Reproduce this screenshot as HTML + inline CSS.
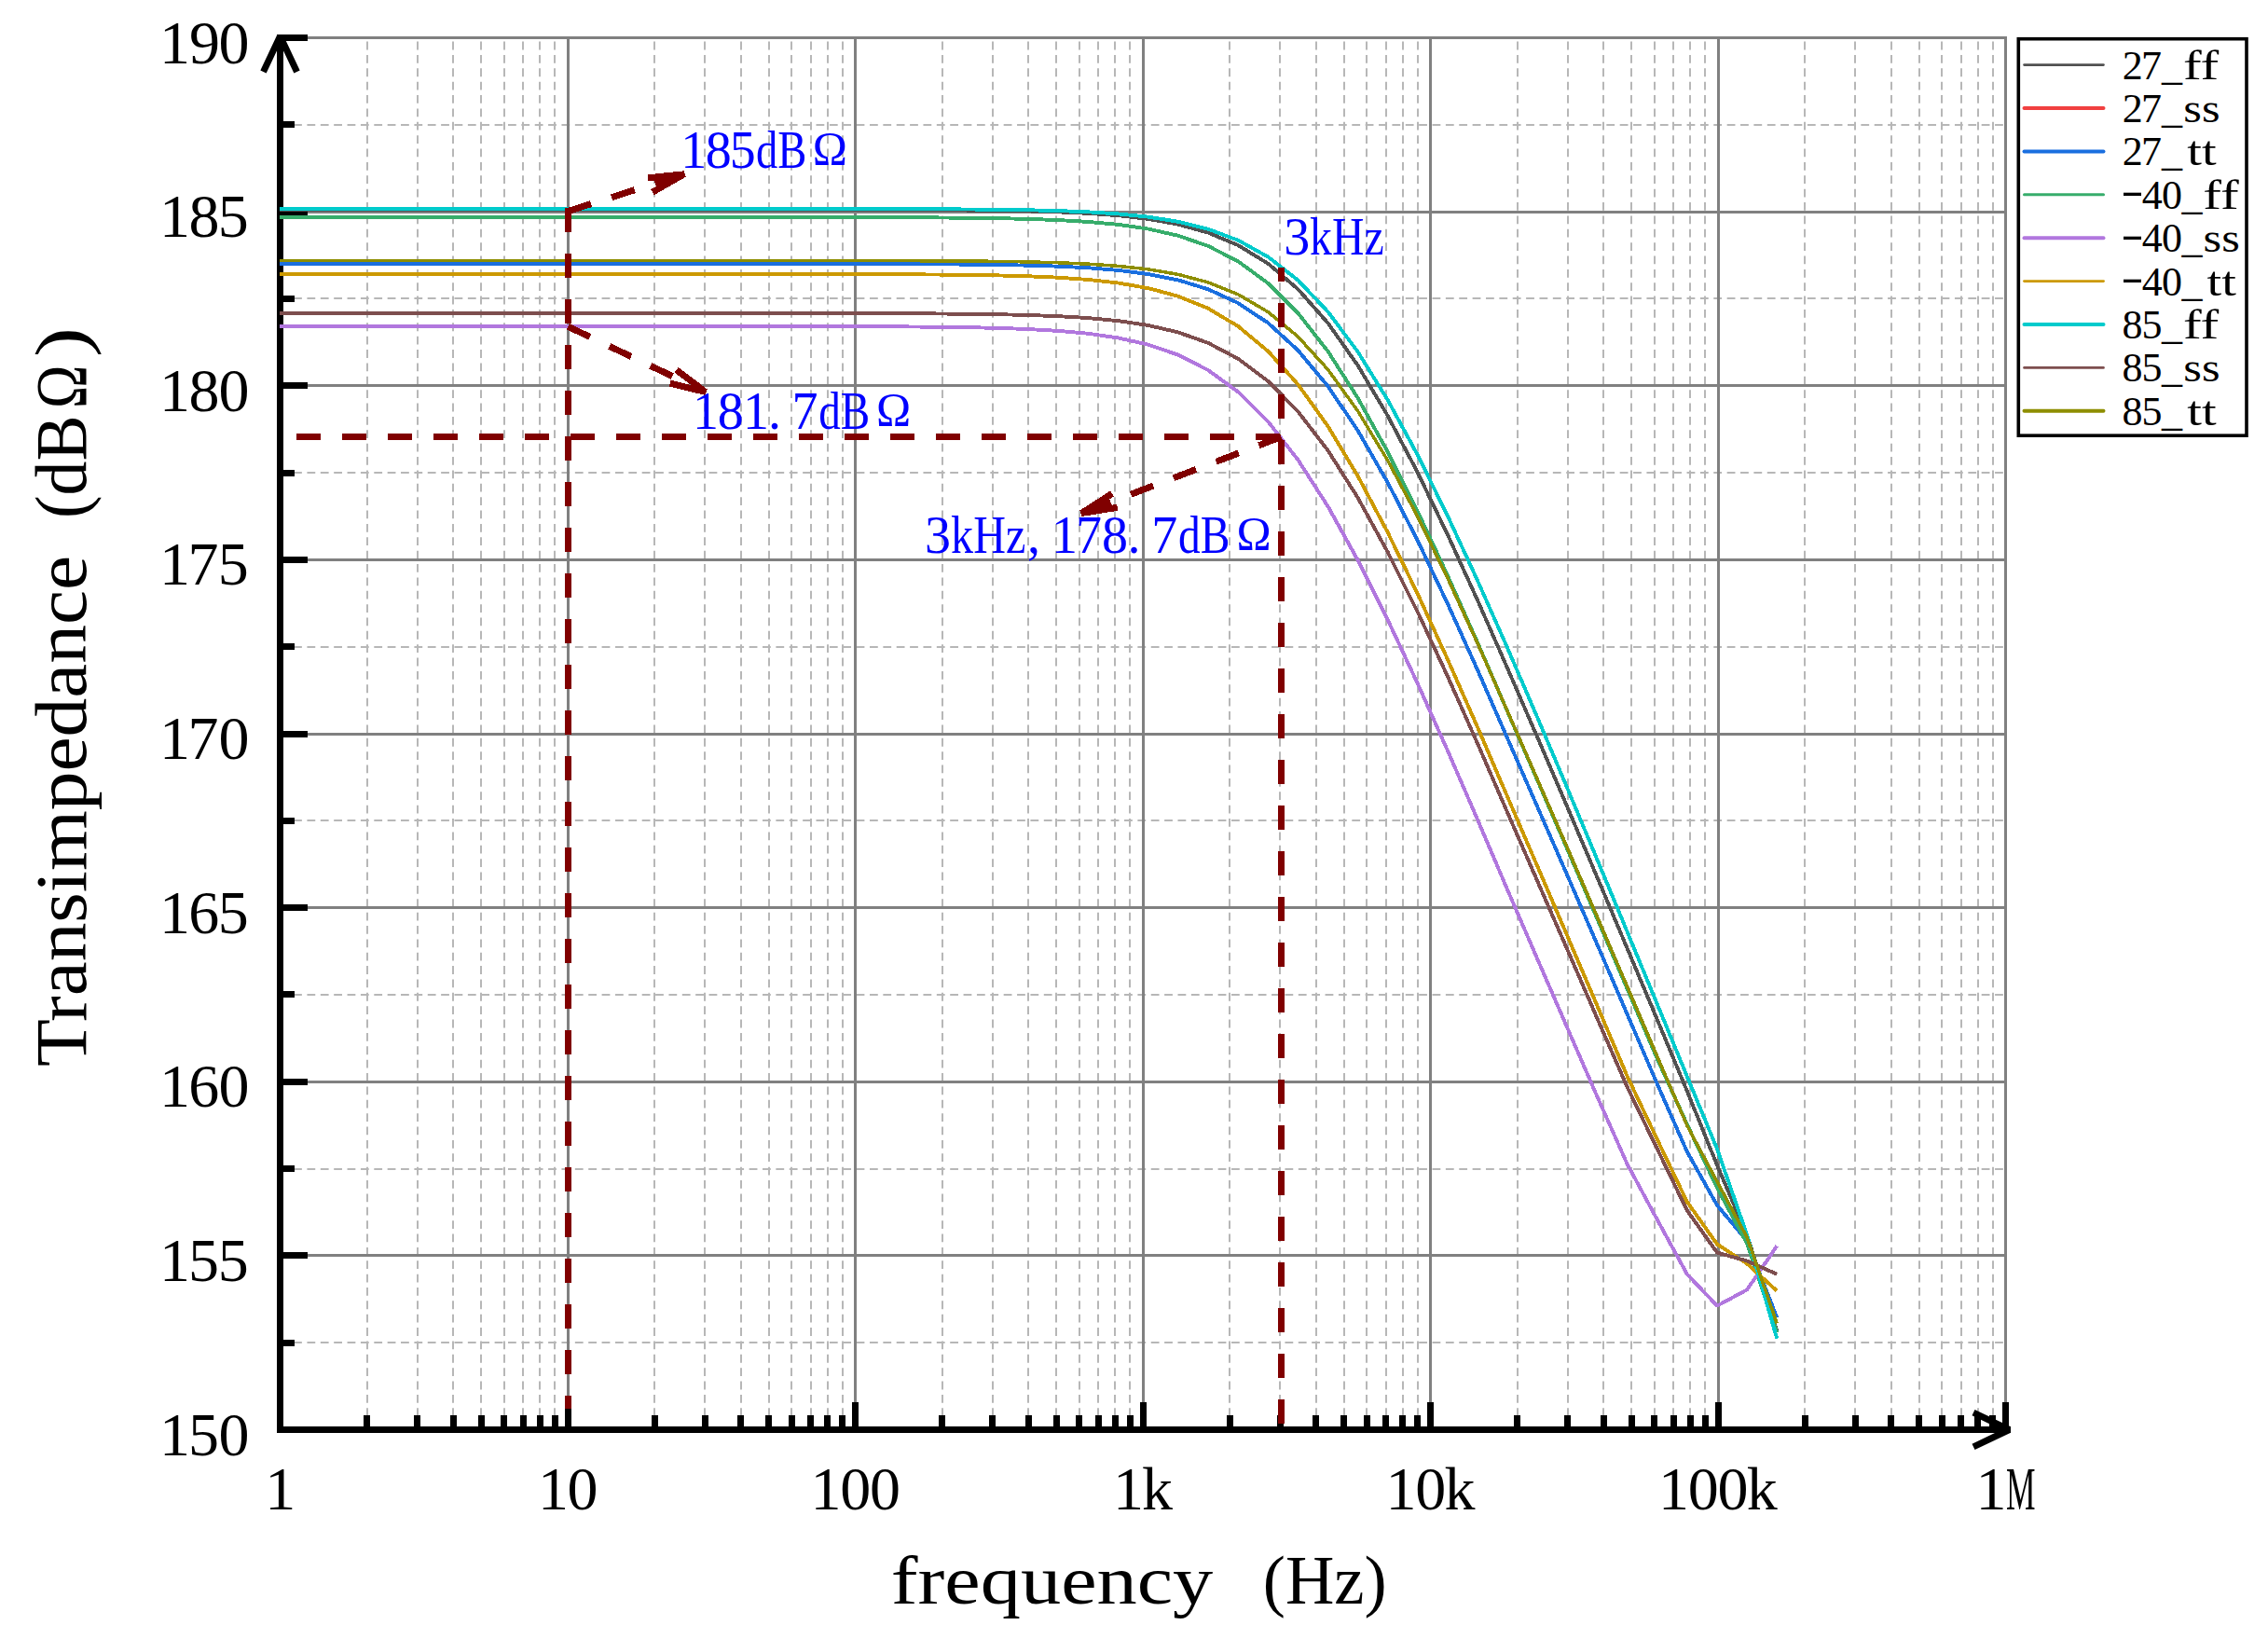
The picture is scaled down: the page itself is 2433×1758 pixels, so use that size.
<!DOCTYPE html>
<html lang="en"><head><meta charset="utf-8"><title>Transimpedance vs frequency</title>
<style>html,body{margin:0;padding:0;background:#fff}svg{display:block}</style></head>
<body>
<svg width="2433" height="1758" viewBox="0 0 2433 1758">
<title>Transimpedance (dBΩ) versus frequency (Hz)</title>
<desc>Line chart of Transimpedance (dBΩ) against frequency (Hz) from 1 to 1M on a log axis for the corners 27_ff, 27_ss, 27_tt, -40_ff, -40_ss, -40_tt, 85_ff, 85_ss and 85_tt. Annotations: 185dBΩ, 181.7dBΩ, 3kHz and 3kHz,178.7dBΩ.</desc>
<rect width="2433" height="1758" fill="#fff"/>
<path d="M394.0 1533.5V40.5M448.0 1533.5V40.5M486.0 1533.5V40.5M516.0 1533.5V40.5M541.0 1533.5V40.5M561.0 1533.5V40.5M579.0 1533.5V40.5M595.0 1533.5V40.5M702.0 1533.5V40.5M756.0 1533.5V40.5M795.0 1533.5V40.5M825.0 1533.5V40.5M849.0 1533.5V40.5M870.0 1533.5V40.5M888.0 1533.5V40.5M904.0 1533.5V40.5M1011.0 1533.5V40.5M1065.0 1533.5V40.5M1103.0 1533.5V40.5M1133.0 1533.5V40.5M1158.0 1533.5V40.5M1178.0 1533.5V40.5M1196.0 1533.5V40.5M1212.0 1533.5V40.5M1319.0 1533.5V40.5M1373.0 1533.5V40.5M1412.0 1533.5V40.5M1442.0 1533.5V40.5M1466.0 1533.5V40.5M1487.0 1533.5V40.5M1505.0 1533.5V40.5M1521.0 1533.5V40.5M1628.0 1533.5V40.5M1682.0 1533.5V40.5M1720.0 1533.5V40.5M1750.0 1533.5V40.5M1775.0 1533.5V40.5M1795.0 1533.5V40.5M1813.0 1533.5V40.5M1829.0 1533.5V40.5M1936.0 1533.5V40.5M1990.0 1533.5V40.5M2029.0 1533.5V40.5M2059.0 1533.5V40.5M2083.0 1533.5V40.5M2104.0 1533.5V40.5M2122.0 1533.5V40.5M2138.0 1533.5V40.5M300.7 1440.0H2151.7M300.7 1254.0H2151.7M300.7 1067.0H2151.7M300.7 880.0H2151.7M300.7 694.0H2151.7M300.7 507.0H2151.7M300.7 320.0H2151.7M300.7 134.0H2151.7" fill="none" stroke="#b7b7b7" stroke-width="2" stroke-dasharray="8.8 5.57"/>
<path d="M609.5 1533.5V39.0M917.5 1533.5V39.0M1226.5 1533.5V39.0M1534.5 1533.5V39.0M1843.5 1533.5V39.0M2151.5 1533.5V39.0M300.7 1346.5H2153.0M300.7 1160.5H2153.0M300.7 973.5H2153.0M300.7 787.5H2153.0M300.7 600.5H2153.0M300.7 413.5H2153.0M300.7 227.5H2153.0M300.7 40.5H2153.0" fill="none" stroke="#808080" stroke-width="3"/>
<path d="M393.5 1533.5v-15.5M447.5 1533.5v-15.5M486.5 1533.5v-15.5M516.5 1533.5v-15.5M540.5 1533.5v-15.5M561.5 1533.5v-15.5M579.5 1533.5v-15.5M595.5 1533.5v-15.5M609.5 1533.5v-29.5M702.5 1533.5v-15.5M756.5 1533.5v-15.5M794.5 1533.5v-15.5M824.5 1533.5v-15.5M849.5 1533.5v-15.5M869.5 1533.5v-15.5M887.5 1533.5v-15.5M903.5 1533.5v-15.5M917.5 1533.5v-29.5M1010.5 1533.5v-15.5M1064.5 1533.5v-15.5M1103.5 1533.5v-15.5M1133.5 1533.5v-15.5M1157.5 1533.5v-15.5M1178.5 1533.5v-15.5M1196.5 1533.5v-15.5M1212.5 1533.5v-15.5M1226.5 1533.5v-29.5M1319.5 1533.5v-15.5M1373.5 1533.5v-15.5M1411.5 1533.5v-15.5M1441.5 1533.5v-15.5M1466.5 1533.5v-15.5M1486.5 1533.5v-15.5M1504.5 1533.5v-15.5M1520.5 1533.5v-15.5M1534.5 1533.5v-29.5M1627.5 1533.5v-15.5M1681.5 1533.5v-15.5M1720.5 1533.5v-15.5M1750.5 1533.5v-15.5M1774.5 1533.5v-15.5M1795.5 1533.5v-15.5M1813.5 1533.5v-15.5M1829.5 1533.5v-15.5M1843.5 1533.5v-29.5M1936.5 1533.5v-15.5M1990.5 1533.5v-15.5M2028.5 1533.5v-15.5M2058.5 1533.5v-15.5M2083.5 1533.5v-15.5M2103.5 1533.5v-15.5M2121.5 1533.5v-15.5M2137.5 1533.5v-15.5M2151.5 1533.5v-29.5M300.5 1440.5h15.5M300.5 1346.5h29.5M300.5 1253.5h15.5M300.5 1160.5h29.5M300.5 1066.5h15.5M300.5 973.5h29.5M300.5 880.5h15.5M300.5 787.5h29.5M300.5 693.5h15.5M300.5 600.5h29.5M300.5 507.5h15.5M300.5 413.5h29.5M300.5 320.5h15.5M300.5 227.5h29.5M300.5 133.5h15.5M300.5 40.5h29.5" fill="none" stroke="#000" stroke-width="7"/>
<path d="M300.5 40.5V1533.5H2153.5" fill="none" stroke="#000" stroke-width="7" stroke-linecap="square" stroke-linejoin="miter"/>
<path d="M282.5 77L300.5 38.7L318.5 77" fill="none" stroke="#000" stroke-width="7" stroke-linejoin="bevel"/>
<path d="M2117 1515.2L2155.5 1533.5L2117 1551.8" fill="none" stroke="#000" stroke-width="7" stroke-linejoin="bevel"/>
<polyline points="300.0,225.00 332.8,225.00 364.9,225.00 397.0,225.00 429.1,225.00 461.2,225.00 493.4,225.00 525.5,225.00 557.6,225.00 589.7,225.00 621.8,225.00 653.9,225.00 686.0,225.00 718.1,225.00 750.2,225.01 782.3,225.01 814.5,225.02 846.6,225.03 878.7,225.05 910.8,225.08 942.9,225.14 975.0,225.22 1007.1,225.36 1039.2,225.57 1071.3,225.93 1103.4,226.49 1135.5,227.40 1167.7,228.86 1199.8,231.19 1231.9,234.89 1264.0,240.68 1296.1,249.62 1328.2,263.09 1360.3,282.73 1392.4,310.15 1424.5,346.48 1456.6,392.02 1488.7,446.03 1520.9,507.12 1553.0,573.61 1585.1,643.96 1617.2,716.93 1649.3,790.94 1681.4,865.75 1713.5,941.26 1745.6,1017.21 1777.7,1093.45 1809.8,1170.24 1842.0,1249.80 1874.1,1324.52 1906.2,1427.14" fill="none" stroke="#515151" stroke-width="3.9" stroke-linejoin="round" shape-rendering="crispEdges"/>
<polyline points="300.0,336.00 332.8,336.00 364.9,336.00 397.0,336.00 429.1,336.00 461.2,336.00 493.4,336.00 525.5,336.00 557.6,336.00 589.7,336.00 621.8,336.00 653.9,336.00 686.0,336.00 718.1,336.01 750.2,336.01 782.3,336.02 814.5,336.03 846.6,336.04 878.7,336.07 910.8,336.11 942.9,336.18 975.0,336.29 1007.1,336.47 1039.2,336.76 1071.3,337.23 1103.4,337.97 1135.5,339.18 1167.7,341.10 1199.8,344.16 1231.9,348.98 1264.0,356.48 1296.1,367.90 1328.2,384.79 1360.3,408.83 1392.4,441.40 1424.5,483.18 1456.6,533.84 1488.7,592.22 1520.9,656.69 1553.0,725.61 1585.1,797.63 1617.2,871.71 1649.3,945.16 1681.4,1018.55 1713.5,1092.49 1745.6,1166.03 1777.7,1232.15 1809.8,1298.38 1842.0,1343.50 1874.1,1352.48 1906.2,1366.67" fill="none" stroke="#F14040" stroke-width="3.9" stroke-linejoin="round" shape-rendering="crispEdges"/>
<polyline points="300.0,283.00 332.8,283.00 364.9,283.00 397.0,283.00 429.1,283.00 461.2,283.00 493.4,283.00 525.5,283.00 557.6,283.00 589.7,283.00 621.8,283.00 653.9,283.00 686.0,283.00 718.1,283.01 750.2,283.01 782.3,283.01 814.5,283.02 846.6,283.04 878.7,283.06 910.8,283.09 942.9,283.15 975.0,283.25 1007.1,283.40 1039.2,283.64 1071.3,284.03 1103.4,284.67 1135.5,285.68 1167.7,287.31 1199.8,289.91 1231.9,294.01 1264.0,300.43 1296.1,310.29 1328.2,325.04 1360.3,346.35 1392.4,375.75 1424.5,414.24 1456.6,461.84 1488.7,517.64 1520.9,580.13 1553.0,647.64 1585.1,718.69 1617.2,792.14 1649.3,865.46 1681.4,939.01 1713.5,1013.20 1745.6,1087.78 1777.7,1162.55 1809.8,1235.31 1842.0,1292.73 1874.1,1330.86 1906.2,1413.33" fill="none" stroke="#1A6FDF" stroke-width="3.9" stroke-linejoin="round" shape-rendering="crispEdges"/>
<polyline points="300.0,233.00 332.8,233.00 364.9,233.00 397.0,233.00 429.1,233.00 461.2,233.00 493.4,233.00 525.5,233.00 557.6,233.00 589.7,233.00 621.8,233.00 653.9,233.00 686.0,233.00 718.1,233.01 750.2,233.01 782.3,233.02 814.5,233.03 846.6,233.04 878.7,233.07 910.8,233.11 942.9,233.17 975.0,233.28 1007.1,233.46 1039.2,233.73 1071.3,234.18 1103.4,234.91 1135.5,236.07 1167.7,237.93 1199.8,240.89 1231.9,245.56 1264.0,252.82 1296.1,263.91 1328.2,280.35 1360.3,303.82 1392.4,335.74 1424.5,376.86 1456.6,426.91 1488.7,484.79 1520.9,548.87 1553.0,617.52 1585.1,689.36 1617.2,763.32 1649.3,837.11 1681.4,911.07 1713.5,985.59 1745.6,1060.45 1777.7,1135.54 1809.8,1205.94 1842.0,1274.06 1874.1,1333.85 1906.2,1429.00" fill="none" stroke="#37AD6B" stroke-width="3.9" stroke-linejoin="round" shape-rendering="crispEdges"/>
<polyline points="300.0,350.00 332.8,350.00 364.9,350.00 397.0,350.00 429.1,350.00 461.2,350.00 493.4,350.00 525.5,350.00 557.6,350.00 589.7,350.00 621.8,350.00 653.9,350.00 686.0,350.01 718.1,350.01 750.2,350.02 782.3,350.03 814.5,350.04 846.6,350.07 878.7,350.11 910.8,350.17 942.9,350.28 975.0,350.45 1007.1,350.73 1039.2,351.18 1071.3,351.89 1103.4,353.05 1135.5,354.90 1167.7,357.83 1199.8,362.47 1231.9,369.69 1264.0,380.71 1296.1,397.06 1328.2,420.41 1360.3,452.20 1392.4,493.18 1424.5,543.11 1456.6,600.87 1488.7,664.87 1520.9,733.47 1553.0,805.27 1585.1,879.20 1617.2,954.52 1649.3,1028.76 1681.4,1102.66 1713.5,1176.40 1745.6,1248.59 1777.7,1308.07 1809.8,1366.68 1842.0,1400.61 1874.1,1383.44 1906.2,1336.44" fill="none" stroke="#B177DE" stroke-width="3.9" stroke-linejoin="round" shape-rendering="crispEdges"/>
<polyline points="300.0,294.00 332.8,294.00 364.9,294.00 397.0,294.00 429.1,294.00 461.2,294.00 493.4,294.00 525.5,294.00 557.6,294.00 589.7,294.00 621.8,294.00 653.9,294.00 686.0,294.00 718.1,294.01 750.2,294.01 782.3,294.02 814.5,294.03 846.6,294.05 878.7,294.08 910.8,294.13 942.9,294.21 975.0,294.34 1007.1,294.55 1039.2,294.89 1071.3,295.44 1103.4,296.32 1135.5,297.72 1167.7,299.97 1199.8,303.54 1231.9,309.13 1264.0,317.78 1296.1,330.85 1328.2,349.95 1360.3,376.71 1392.4,412.33 1424.5,457.16 1456.6,510.56 1488.7,571.16 1520.9,637.29 1553.0,707.39 1585.1,780.19 1617.2,854.79 1649.3,929.27 1681.4,1003.90 1713.5,1079.00 1745.6,1154.38 1777.7,1222.00 1809.8,1289.05 1842.0,1334.54 1874.1,1355.47 1906.2,1384.59" fill="none" stroke="#CC9900" stroke-width="3.9" stroke-linejoin="round" shape-rendering="crispEdges"/>
<polyline points="300.0,224.00 332.8,224.00 364.9,224.00 397.0,224.00 429.1,224.00 461.2,224.00 493.4,224.00 525.5,224.00 557.6,224.00 589.7,224.00 621.8,224.00 653.9,224.00 686.0,224.00 718.1,224.00 750.2,224.01 782.3,224.01 814.5,224.02 846.6,224.03 878.7,224.05 910.8,224.07 942.9,224.12 975.0,224.19 1007.1,224.31 1039.2,224.50 1071.3,224.81 1103.4,225.30 1135.5,226.10 1167.7,227.38 1199.8,229.42 1231.9,232.67 1264.0,237.79 1296.1,245.71 1328.2,257.75 1360.3,275.49 1392.4,300.57 1424.5,334.33 1456.6,377.31 1488.7,429.06 1520.9,488.33 1553.0,553.47 1585.1,622.87 1617.2,695.21 1649.3,769.71 1681.4,845.56 1713.5,922.22 1745.6,999.39 1777.7,1076.87 1809.8,1154.55 1842.0,1232.25 1874.1,1324.52 1906.2,1435.72" fill="none" stroke="#00CBCC" stroke-width="3.9" stroke-linejoin="round" shape-rendering="crispEdges"/>
<polyline points="300.0,336.00 332.8,336.00 364.9,336.00 397.0,336.00 429.1,336.00 461.2,336.00 493.4,336.00 525.5,336.00 557.6,336.00 589.7,336.00 621.8,336.00 653.9,336.00 686.0,336.00 718.1,336.01 750.2,336.01 782.3,336.02 814.5,336.03 846.6,336.04 878.7,336.07 910.8,336.11 942.9,336.18 975.0,336.29 1007.1,336.47 1039.2,336.76 1071.3,337.23 1103.4,337.97 1135.5,339.18 1167.7,341.10 1199.8,344.16 1231.9,348.98 1264.0,356.48 1296.1,367.90 1328.2,384.79 1360.3,408.83 1392.4,441.40 1424.5,483.18 1456.6,533.84 1488.7,592.22 1520.9,656.69 1553.0,725.61 1585.1,797.63 1617.2,871.71 1649.3,945.16 1681.4,1018.55 1713.5,1092.49 1745.6,1166.03 1777.7,1232.15 1809.8,1298.38 1842.0,1343.50 1874.1,1352.48 1906.2,1366.67" fill="none" stroke="#7D4E4E" stroke-width="3.9" stroke-linejoin="round" shape-rendering="crispEdges"/>
<polyline points="300.0,279.50 332.8,279.50 364.9,279.50 397.0,279.50 429.1,279.50 461.2,279.50 493.4,279.50 525.5,279.50 557.6,279.50 589.7,279.50 621.8,279.50 653.9,279.50 686.0,279.50 718.1,279.50 750.2,279.51 782.3,279.51 814.5,279.52 846.6,279.53 878.7,279.55 910.8,279.58 942.9,279.63 975.0,279.71 1007.1,279.84 1039.2,280.04 1071.3,280.38 1103.4,280.91 1135.5,281.78 1167.7,283.16 1199.8,285.37 1231.9,288.88 1264.0,294.39 1296.1,302.90 1328.2,315.78 1360.3,334.63 1392.4,361.09 1424.5,396.38 1456.6,440.89 1488.7,494.00 1520.9,554.37 1553.0,620.33 1585.1,690.30 1617.2,763.03 1649.3,835.98 1681.4,909.36 1713.5,983.50 1745.6,1058.10 1777.7,1132.99 1809.8,1207.32 1842.0,1267.35 1874.1,1327.13 1906.2,1419.30" fill="none" stroke="#8E8E00" stroke-width="3.5" stroke-linejoin="round" shape-rendering="crispEdges"/>
<g fill="none" stroke="#800000" stroke-width="7" stroke-dasharray="25.8 23.2" shape-rendering="crispEdges">
<path d="M609.5 223.2V1510.9"/>
<path d="M1374.5 1526.8V287.3"/>
<path d="M318 468.5H1377.9"/>
<path d="M609.5 226.5L733.4 187.0"/>
<path d="M609.5 350.3L756.3 420.2"/>
<path d="M1374.5 468.5L1160.6 550.3"/>
</g>
<path d="M695.1 190.8L733.9 186.8L699.9 206.1" fill="none" stroke="#800000" stroke-width="7" stroke-linejoin="bevel" shape-rendering="crispEdges"/>
<path d="M725.7 396.8L756.8 420.4L718.8 411.2" fill="none" stroke="#800000" stroke-width="7" stroke-linejoin="bevel" shape-rendering="crispEdges"/>
<path d="M1198.7 544.3L1160.1 550.5L1193.0 529.4" fill="none" stroke="#800000" stroke-width="7" stroke-linejoin="bevel" shape-rendering="crispEdges"/>
<g font-family="'Liberation Serif', 'Noto Serif CJK SC', serif">
<text y="1618.9" font-size="66" fill="#000"><tspan x="284.3">1</tspan></text>
<text y="1618.9" font-size="66" fill="#000"><tspan x="576.9 608.6">10</tspan></text>
<text y="1618.9" font-size="66" fill="#000"><tspan x="869.5 901.2 933.0">100</tspan></text>
<text y="1618.9" font-size="66" fill="#000"><tspan x="1193.9 1225.0">1k</tspan></text>
<text y="1618.9" font-size="66" fill="#000"><tspan x="1486.5 1518.2 1549.4">10k</tspan></text>
<text y="1618.9" font-size="66" fill="#000"><tspan x="1779.1 1810.8 1842.6 1873.8">100k</tspan></text>
<text y="1618.9" font-size="66" fill="#000"><tspan x="2119.4">1</tspan><tspan x="2151.9" textLength="31.5" lengthAdjust="spacingAndGlyphs">M</tspan></text>
<text y="1560.5" font-size="66" fill="#000"><tspan x="170.9 202.0 234.4">150</tspan></text>
<text y="1373.9" font-size="66" fill="#000"><tspan x="170.9 202.0 233.8">155</tspan></text>
<text y="1187.2" font-size="66" fill="#000"><tspan x="170.9 202.2 234.4">160</tspan></text>
<text y="1000.6" font-size="66" fill="#000"><tspan x="170.9 202.2 233.8">165</tspan></text>
<text y="814.0" font-size="66" fill="#000"><tspan x="170.9 201.4 234.4">170</tspan></text>
<text y="627.4" font-size="66" fill="#000"><tspan x="170.9 201.4 233.8">175</tspan></text>
<text y="440.8" font-size="66" fill="#000"><tspan x="170.9 202.6 234.4">180</tspan></text>
<text y="254.1" font-size="66" fill="#000"><tspan x="170.9 202.6 233.8">185</tspan></text>
<text y="67.5" font-size="66" fill="#000"><tspan x="170.9 202.9 234.4">190</tspan></text>
<text y="1719.9" font-size="75" fill="#000"><tspan x="955.8" textLength="345.5" lengthAdjust="spacingAndGlyphs">frequency</tspan> <tspan x="1354.8" textLength="132.8" lengthAdjust="spacingAndGlyphs">(Hz)</tspan></text>
<g transform="translate(92.4 1142.6) rotate(-90)"><text y="0.0" font-size="78" fill="#000"><tspan x="-1.5" textLength="548.0" lengthAdjust="spacingAndGlyphs">Transimpedance</tspan> <tspan x="586.6" textLength="110.6" lengthAdjust="spacingAndGlyphs">(dB</tspan><tspan x="704.5" textLength="46.4" lengthAdjust="spacingAndGlyphs">Ω</tspan><tspan x="759.5" textLength="31.9" lengthAdjust="spacingAndGlyphs">)</tspan></text></g>
<text y="179.9" font-size="56" fill="#0000FF"><tspan x="730.3 756.7 782.8">185</tspan><tspan x="810.9" textLength="54.4" lengthAdjust="spacingAndGlyphs">dB</tspan><tspan x="871.8" dy="-3.5" font-size="50">Ω</tspan></text>
<text y="459.9" font-size="56" fill="#0000FF"><tspan x="743.1 769.8 796.9 824.1 849.5">181.7</tspan><tspan x="878.2" textLength="55.0" lengthAdjust="spacingAndGlyphs">dB</tspan><tspan x="940.1" dy="-3.5" font-size="50">Ω</tspan></text>
<text y="272.9" font-size="56" fill="#0000FF"><tspan x="1377.2">3</tspan><tspan x="1405.1" textLength="79.5" lengthAdjust="spacingAndGlyphs">kHz</tspan></text>
<text y="592.8" font-size="56" fill="#0000FF"><tspan x="992.1">3</tspan><tspan x="1020.1" textLength="80.2" lengthAdjust="spacingAndGlyphs">kHz</tspan><tspan x="1101.9 1128.0 1153.9 1182.0 1209.6 1235.2">,178.7</tspan><tspan x="1264.0" textLength="55.4" lengthAdjust="spacingAndGlyphs">dB</tspan><tspan x="1326.5" dy="-3.5" font-size="50">Ω</tspan></text>
</g>
<rect x="2165.3" y="41.7" width="244.7" height="425.5" fill="#fff" stroke="#000" stroke-width="3.6"/>
<g font-family="'Liberation Serif', 'Noto Serif CJK SC', serif">
<path d="M2171.5 69.6H2256.5" stroke="#515151" stroke-width="2.6" stroke-linecap="round"/>
<text y="84.6" font-size="44" fill="#000"><tspan x="2276.7 2297.0 2319.1">27_</tspan><tspan x="2342.0" textLength="38.3" lengthAdjust="spacingAndGlyphs">ff</tspan></text>
<path d="M2171.5 116.0H2256.5" stroke="#F14040" stroke-width="4" stroke-linecap="round"/>
<text y="131.0" font-size="44" fill="#000"><tspan x="2276.7 2297.0 2319.1">27_</tspan><tspan x="2342.3" textLength="39.2" lengthAdjust="spacingAndGlyphs">ss</tspan></text>
<path d="M2171.5 162.4H2256.5" stroke="#1A6FDF" stroke-width="4" stroke-linecap="round"/>
<text y="177.4" font-size="44" fill="#000"><tspan x="2276.7 2297.0 2319.1">27_</tspan><tspan x="2346.2" textLength="31.4" lengthAdjust="spacingAndGlyphs">tt</tspan></text>
<path d="M2171.5 208.8H2256.5" stroke="#37AD6B" stroke-width="3" stroke-linecap="round"/>
<text y="223.8" font-size="44" fill="#000"><tspan x="2275.3" textLength="24.4" lengthAdjust="spacingAndGlyphs" dy="-4.7">-</tspan><tspan x="2297.7 2319.1 2340.4" dy="4.7">40_</tspan><tspan x="2363.3" textLength="38.3" lengthAdjust="spacingAndGlyphs">ff</tspan></text>
<path d="M2171.5 255.2H2256.5" stroke="#B177DE" stroke-width="4" stroke-linecap="round"/>
<text y="270.2" font-size="44" fill="#000"><tspan x="2275.3" textLength="24.4" lengthAdjust="spacingAndGlyphs" dy="-4.7">-</tspan><tspan x="2297.7 2319.1 2340.4" dy="4.7">40_</tspan><tspan x="2363.6" textLength="39.2" lengthAdjust="spacingAndGlyphs">ss</tspan></text>
<path d="M2171.5 301.6H2256.5" stroke="#CC9900" stroke-width="2.8" stroke-linecap="round"/>
<text y="316.6" font-size="44" fill="#000"><tspan x="2275.3" textLength="24.4" lengthAdjust="spacingAndGlyphs" dy="-4.7">-</tspan><tspan x="2297.7 2319.1 2340.4" dy="4.7">40_</tspan><tspan x="2367.5" textLength="31.4" lengthAdjust="spacingAndGlyphs">tt</tspan></text>
<path d="M2171.5 348.0H2256.5" stroke="#00CBCC" stroke-width="4" stroke-linecap="round"/>
<text y="363.0" font-size="44" fill="#000"><tspan x="2276.5 2297.4 2319.1">85_</tspan><tspan x="2342.0" textLength="38.3" lengthAdjust="spacingAndGlyphs">ff</tspan></text>
<path d="M2171.5 394.4H2256.5" stroke="#7D4E4E" stroke-width="2.6" stroke-linecap="round"/>
<text y="409.4" font-size="44" fill="#000"><tspan x="2276.5 2297.4 2319.1">85_</tspan><tspan x="2342.3" textLength="39.2" lengthAdjust="spacingAndGlyphs">ss</tspan></text>
<path d="M2171.5 440.8H2256.5" stroke="#8E8E00" stroke-width="4" stroke-linecap="round"/>
<text y="455.8" font-size="44" fill="#000"><tspan x="2276.5 2297.4 2319.1">85_</tspan><tspan x="2346.2" textLength="31.4" lengthAdjust="spacingAndGlyphs">tt</tspan></text>
</g>
</svg>
</body></html>
